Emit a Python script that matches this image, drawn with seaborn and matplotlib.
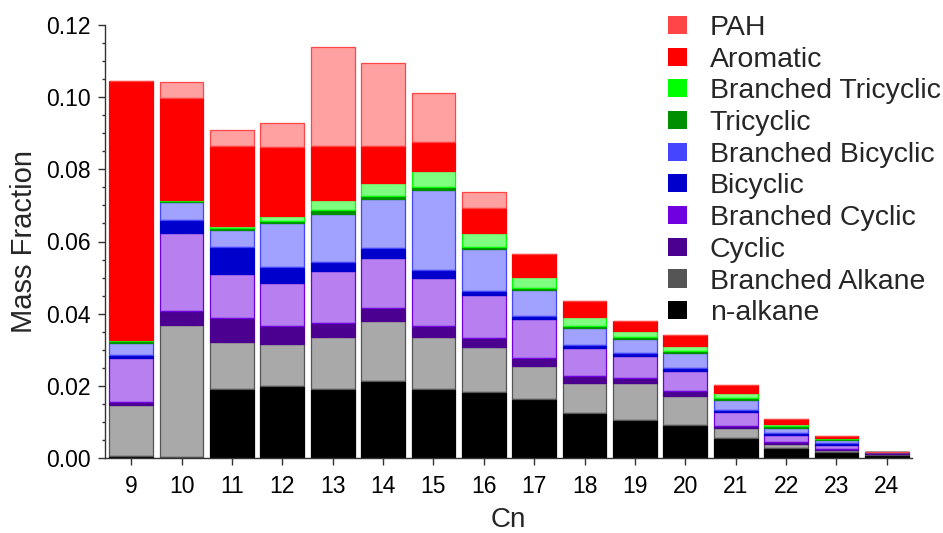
import numpy as np
import pandas as pd
import matplotlib
matplotlib.use("Agg")
import matplotlib.pyplot as plt
from matplotlib.patches import Patch
from matplotlib.ticker import MultipleLocator, FormatStrFormatter
import matplotlib.colors as mcolors
import seaborn as sns

carbon_numbers = ["9", "10", "11", "12", "13", "14", "15", "16",
                  "17", "18", "19", "20", "21", "22", "23", "24"]

n_alkane          = [0.0006, 0.0003, 0.0191, 0.0200, 0.0190, 0.0213, 0.0191, 0.0184,
                     0.0163, 0.0126, 0.0105, 0.0092, 0.0055, 0.0027, 0.0016, 0.0008]
branched_alkane   = [0.0141, 0.0366, 0.0130, 0.0115, 0.0146, 0.0167, 0.0145, 0.0124,
                     0.0092, 0.0083, 0.0104, 0.0081, 0.0027, 0.0012, 0.0006, 0.0003]
cyclic            = [0.0009, 0.0038, 0.0068, 0.0051, 0.0039, 0.0037, 0.0030, 0.0025,
                     0.0023, 0.0017, 0.0013, 0.0013, 0.0007, 0.0006, 0.0003, 0.0002]
branched_cyclic   = [0.0120, 0.0216, 0.0120, 0.0120, 0.0143, 0.0136, 0.0134, 0.0119,
                     0.0106, 0.0078, 0.0061, 0.0055, 0.0038, 0.0019, 0.0011, 0.0004]
bicyclic          = [0.0009, 0.0037, 0.0075, 0.0044, 0.0026, 0.0030, 0.0021, 0.0011,
                     0.0010, 0.0009, 0.0009, 0.0008, 0.0006, 0.0004, 0.0005, 0.0001]
branched_bicyclic = [0.0035, 0.0049, 0.0048, 0.0120, 0.0132, 0.0134, 0.0222, 0.0115,
                     0.0072, 0.0048, 0.0038, 0.0041, 0.0028, 0.0016, 0.0009, 0.0000]
tricyclic         = [0.0004, 0.0003, 0.0005, 0.0008, 0.0011, 0.0010, 0.0009, 0.0008,
                     0.0006, 0.0006, 0.0004, 0.0006, 0.0006, 0.0005, 0.0004, 0.0000]
branched_tricyclic= [0.0003, 0.0003, 0.0006, 0.0014, 0.0028, 0.0034, 0.0042, 0.0037,
                     0.0031, 0.0025, 0.0018, 0.0015, 0.0012, 0.0005, 0.0002, 0.0000]
aromatic          = [0.0719, 0.0284, 0.0223, 0.0191, 0.0151, 0.0104, 0.0081, 0.0071,
                     0.0062, 0.0043, 0.0029, 0.0030, 0.0023, 0.0014, 0.0005, 0.0000]
pah               = [0.0000, 0.0044, 0.0043, 0.0065, 0.0274, 0.0229, 0.0136, 0.0042,
                     0.0000, 0.0000, 0.0000, 0.0000, 0.0000, 0.0000, 0.0000, 0.0000]

series_names = ["n-alkane", "Branched Alkane", "Cyclic", "Branched Cyclic", "Bicyclic",
                "Branched Bicyclic", "Tricyclic", "Branched Tricyclic", "Aromatic", "PAH"]
series_values = [n_alkane, branched_alkane, cyclic, branched_cyclic, bicyclic,
                 branched_bicyclic, tricyclic, branched_tricyclic, aromatic, pah]
series_colors = ["#000000", "#555555", "#4B0090", "#7000E0", "#0000CC",
                 "#4545FF", "#008F00", "#00FF00", "#FF0000", "#FF4545"]
series_light = [False, True, False, True, False, True, False, True, False, True]

sns.set_style("ticks")
plt.rcParams["font.family"] = ["Liberation Sans", "DejaVu Sans"]

fig = plt.figure(figsize=(9.43, 5.33), dpi=100)
ax = fig.add_axes([105 / 943, 1 - 458 / 533, (912 - 105) / 943, (458 - 25) / 533])

bottom = np.zeros(len(carbon_numbers))
for name, vals, col, light in zip(series_names, series_values, series_colors, series_light):
    df = pd.DataFrame({"Cn": carbon_numbers, "value": vals})
    rgb = mcolors.to_rgb(col)
    face = (rgb[0], rgb[1], rgb[2], 0.5) if light else (rgb[0], rgb[1], rgb[2], 1.0)
    sns.barplot(data=df, x="Cn", y="value", order=carbon_numbers, ax=ax,
                width=0.87, errorbar=None, color=col, saturation=1,
                bottom=bottom.copy(),
                facecolor=face, edgecolor=col, linewidth=0.9)
    bottom += np.array(vals)

ax.set_xlim(-0.52, 15.5)
ax.set_ylim(0, 0.12)
ax.yaxis.set_major_locator(MultipleLocator(0.02))
ax.yaxis.set_minor_locator(MultipleLocator(0.005))
ax.yaxis.set_major_formatter(FormatStrFormatter("%.2f"))

for s in ["top", "right"]:
    ax.spines[s].set_visible(False)
for s in ["left", "bottom"]:
    ax.spines[s].set_color("#333333")
    ax.spines[s].set_linewidth(1.0)

ax.tick_params(axis="both", which="major", direction="out", length=5, width=1.0,
               color="#333333", labelsize=16.5, labelcolor="black", pad=5)
ax.tick_params(axis="x", which="major", pad=7)
ax.tick_params(axis="y", which="minor", direction="out", length=2.5, width=1.0, color="#333333")

ax.set_xlabel("Cn", fontsize=20, labelpad=7)
ax.set_ylabel("Mass Fraction", fontsize=21, labelpad=6)

handles = [Patch(facecolor=c, edgecolor=c, linewidth=0) for c in series_colors[::-1]]
ax.legend(handles, series_names[::-1], loc="upper left",
          bbox_to_anchor=(668 / 943, 1 - 15 / 533), bbox_transform=fig.transFigure,
          frameon=False, fontsize=20.5, handlelength=0.67, handleheight=0.6,
          handletextpad=0.8, labelspacing=0.2, borderpad=0, borderaxespad=0)

fig.savefig("out.png", dpi=100)
